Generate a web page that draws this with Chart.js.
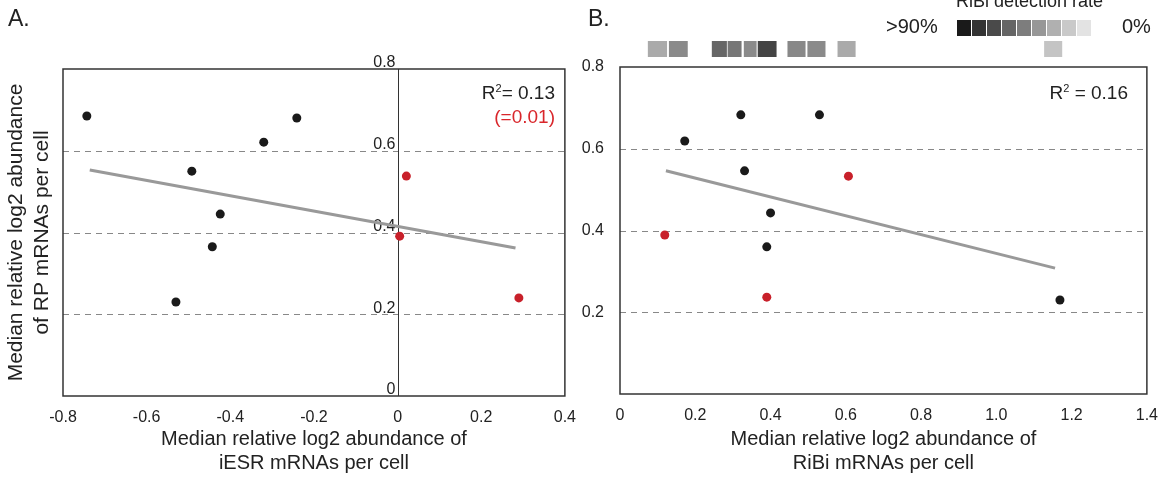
<!DOCTYPE html>
<html><head><meta charset="utf-8">
<script src="https://cdn.jsdelivr.net/npm/chart.js@4/dist/chart.umd.min.js"></script>
<style>
body{margin:0;width:1162px;height:479px;position:relative;background:#fff;font-family:Arial,"Liberation Sans",sans-serif;overflow:hidden}
canvas{position:absolute;top:0}
.t{position:absolute;color:#222;white-space:nowrap}
</style></head><body>
<canvas id="a" style="left:0" width="580" height="479"></canvas>
<canvas id="b" style="left:580px" width="582" height="479"></canvas>
<div class="t" style="left:8px;top:5px;font-size:23px">A.</div>
<div class="t" style="left:588px;top:5px;font-size:23px">B.</div>
<div class="t" style="right:607px;top:82px;font-size:19px">R<sup style="font-size:11px">2</sup>= 0.13</div>
<div class="t" style="right:607px;top:106px;font-size:19px;color:#d9262b">(=0.01)</div>
<div class="t" style="right:34px;top:82px;font-size:19px">R<sup style="font-size:11px">2</sup> = 0.16</div>
<div class="t" style="left:956px;top:-9px;font-size:18px">RiBi detection rate</div>
<div class="t" style="left:886px;top:15px;font-size:20px">&gt;90%</div>
<div class="t" style="left:1122px;top:15px;font-size:20px">0%</div>
<div id="leg" style="position:absolute;left:957px;top:20px;height:16px;display:flex"></div>
<script>
// Panel A data
const aBlackX=[-0.743,-0.241,-0.32,-0.492,-0.424,-0.443,-0.53];
const aBlackY=[0.685,0.680,0.621,0.55,0.445,0.365,0.23];
const aRedX=[0.021,0.005,0.29];
const aRedY=[0.538,0.391,0.24];
const aFitX=[-0.736,0.282];
const aFitY=[0.553,0.362];
// Panel B data
const bBlackX=[0.172,0.321,0.53,0.331,0.40,0.39,1.169];
const bBlackY=[0.619,0.683,0.683,0.546,0.443,0.36,0.23];
const bRedX=[0.119,0.39,0.607];
const bRedY=[0.389,0.237,0.533];
const bFitX=[0.122,1.156];
const bFitY=[0.546,0.308];
// RiBi detection strip (x ranges on panel B x axis) and grey levels
const stripStart=[0.074,0.130,0.244,0.286,0.329,0.366,0.445,0.498,0.578,1.127];
const stripEnd=[0.125,0.180,0.284,0.323,0.363,0.416,0.493,0.546,0.626,1.175];
const stripColor=['#aaaaaa','#8a8a8a','#666666','#777777','#8a8a8a','#444444','#888888','#8a8a8a','#aaaaaa','#c4c4c4'];
const legendColors=['#1a1a1a','#333','#4a4a4a','#656565','#7d7d7d','#979797','#b0b0b0','#c9c9c9','#e3e3e3'];
const aXTicks=[-0.8,-0.6,-0.4,-0.2,0,0.2,0.4];
const aYTicks=[0,0.2,0.4,0.6,0.8];
const bXTicks=[0,0.2,0.4,0.6,0.8,1.0,1.2,1.4];
const bYTicks=[0.2,0.4,0.6,0.8];

const leg=document.getElementById('leg');
legendColors.forEach(c=>{const d=document.createElement('div');d.style.cssText='width:14px;height:16px;margin-right:1px;background:'+c;leg.appendChild(d);});

const pts=(xs,ys)=>xs.map((x,i)=>({x,y:ys[i]}));
const F='Arial, "Liberation Sans", sans-serif';
function ds(bx,by,rx,ry,fx,fy){return [
 {type:'line',data:pts(fx,fy),borderColor:'#999',borderWidth:3,pointRadius:0,order:2},
 {type:'scatter',data:pts(bx,by),backgroundColor:'#1a1a1a',pointRadius:4.5,pointBorderWidth:0,order:1},
 {type:'scatter',data:pts(rx,ry),backgroundColor:'#c8202a',pointRadius:4.5,pointBorderWidth:0,order:1}];}
const gridDash={id:'gd',beforeDatasetsDraw(c){const {ctx,chartArea:ca,scales:{x,y}}=c;ctx.save();ctx.strokeStyle='#888';ctx.lineWidth=1;ctx.setLineDash([6,5]);
 [0.2,0.4,0.6].forEach(v=>{const p=Math.round(y.getPixelForValue(v))+0.5;ctx.beginPath();ctx.moveTo(ca.left,p);ctx.lineTo(ca.right,p);ctx.stroke();});
 ctx.setLineDash([]);ctx.strokeStyle='#333';ctx.lineWidth=1.5;ctx.strokeRect(ca.left,ca.top,ca.right-ca.left,ca.bottom-ca.top);
 if(c.canvas.id==='a'){const p=Math.round(x.getPixelForValue(0))+0.5;ctx.lineWidth=1;ctx.beginPath();ctx.moveTo(p,ca.top);ctx.lineTo(p,ca.bottom);ctx.stroke();
  ctx.fillStyle='#222';ctx.font='16px '+F;ctx.textAlign='right';ctx.textBaseline='bottom';
  aYTicks.forEach(v=>ctx.fillText(String(v),p-3,y.getPixelForValue(v)+2));}
 ctx.restore();}};
const strip={id:'st',afterDraw(c){if(c.canvas.id!=='b')return;const {ctx,scales:{x}}=c;ctx.save();
 stripStart.forEach((s,i)=>{const l=x.getPixelForValue(s),r=x.getPixelForValue(stripEnd[i]);ctx.fillStyle=stripColor[i];ctx.fillRect(l,41,r-l,16);});ctx.restore();}};
function mk(id,d,xmin,xmax,xt,yt,yw,top,xTitle,yTitle,yTicksShow,right){
 return new Chart(document.getElementById(id),{data:{datasets:d},plugins:[gridDash,strip],
 options:{responsive:false,animation:false,events:[],layout:{padding:{top,right,left:0,bottom:0}},
 plugins:{legend:{display:false},tooltip:{enabled:false}},
 scales:{x:{type:'linear',min:xmin,max:xmax,afterBuildTicks:s=>{s.ticks=xt.map(v=>({value:v}))},afterFit:s=>{s.height=id==='a'?83:85},
   grid:{display:false},border:{display:false},ticks:{color:'#222',font:{size:16,family:F},padding:4,maxRotation:0,callback:v=>(id==='b'&&v!==0)?v.toFixed(1):String(v)},
   title:{display:true,text:xTitle,color:'#222',font:{size:20,family:F},padding:{top:8},lineHeight:1.3}},
  y:{type:'linear',min:0,max:0.8,afterBuildTicks:s=>{s.ticks=yt.map(v=>({value:v}))},afterFit:s=>{s.width=yw},
   grid:{display:false},border:{display:false},ticks:{display:yTicksShow,color:'#222',font:{size:16,family:F},padding:8},
   title:{display:!!yTitle,text:yTitle,color:'#222',font:{size:21,family:F},padding:{bottom:2},lineHeight:1.25}}}}});}
mk('a',ds(aBlackX,aBlackY,aRedX,aRedY,aFitX,aFitY),-0.8,0.4,aXTicks,aYTicks,63,69,['Median relative log2 abundance of','iESR mRNAs per cell'],['Median relative log2 abundance','of RP mRNAs per cell'],false,10);
mk('b',ds(bBlackX,bBlackY,bRedX,bRedY,bFitX,bFitY),0,1.4,bXTicks,bYTicks,40,67,['Median relative log2 abundance of','RiBi mRNAs per cell'],null,true,14);
</script></body></html>
